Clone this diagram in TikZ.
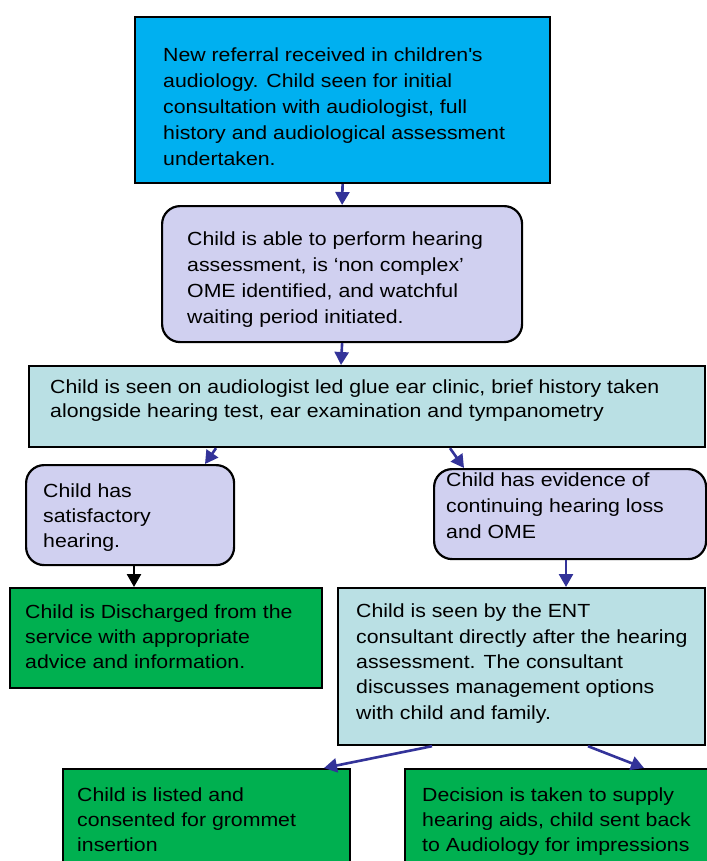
\documentclass[tikz,border=0pt]{standalone}
\usepackage{fontspec}
\setmainfont{Liberation Sans}[FakeStretch=1.12]
\usetikzlibrary{arrows.meta}
\definecolor{cyanbox}{RGB}{0,176,240}
\definecolor{lavbox}{RGB}{208,208,240}
\definecolor{bluebox}{RGB}{186,224,228}
\definecolor{greenbox}{RGB}{0,176,80}
\definecolor{navy}{RGB}{51,51,153}
\begin{document}
\begin{tikzpicture}[x=1pt,y=-1pt,
  box/.style={draw=black,line width=2.2pt,anchor=north west,inner sep=0pt},
  rbox/.style={box,rounded corners=18pt},
  txt/.style={anchor=north west,inner sep=0pt,align=left,font=\fontsize{19}{25.5}\selectfont},
  arr/.style={draw=navy,line width=2.6pt,-{Triangle[width=14pt,length=13pt]}},
  blk/.style={draw=black,line width=2.6pt,-{Triangle[width=14pt,length=13pt]}}]
\useasboundingbox (0,0) rectangle (706,861);
% boxes
\node[box,fill=cyanbox,minimum width=415pt,minimum height=166pt] (b1) at (134,16) {};
\node[rbox,fill=lavbox,minimum width=360pt,minimum height=136pt] (b2) at (161,205) {};
\node[box,fill=bluebox,minimum width=676pt,minimum height=81pt] (b3) at (28,365) {};
\node[rbox,fill=lavbox,minimum width=208pt,minimum height=100pt] (b4) at (25,464) {};
\node[rbox,fill=lavbox,minimum width=272pt,minimum height=90pt] (b5) at (433,468) {};
\node[box,fill=greenbox,minimum width=312pt,minimum height=100pt] (b6) at (9,587) {};
\node[box,fill=bluebox,minimum width=367pt,minimum height=157pt] (b7) at (337,587) {};
\node[box,fill=greenbox,minimum width=287pt,minimum height=110pt] (b8) at (62,768) {};
\node[box,fill=greenbox,minimum width=310pt,minimum height=110pt] (b9) at (404,768) {};
% texts
\node[txt,font=\fontsize{19}{25.8}\selectfont] (t1) at (163,48) {New referral received in children\textquotesingle s\\audiology. Child seen for initial\\consultation with audiologist, full\\history and audiological assessment\\undertaken.};
\node[txt,font=\fontsize{19}{25.8}\selectfont] (t2) at (187,232) {Child is able to perform hearing\\assessment, is ‘non complex’\\OME identified, and watchful\\waiting period initiated.};
\node[txt,font=\fontsize{19}{24}\selectfont] (t3) at (50,380) {Child is seen on audiologist led glue ear clinic, brief history taken\\alongside hearing test, ear examination and tympanometry};
\node[txt,font=\fontsize{19}{25}\selectfont] (t4) at (43,484) {Child has\\satisfactory\\hearing.};
\node[txt,font=\fontsize{19}{26}\selectfont] (t5) at (446,473) {Child has evidence of\\continuing hearing loss\\and OME};
\node[txt,font=\fontsize{19}{25}\selectfont] (t6) at (25,605) {Child is Discharged from the\\service with appropriate\\advice and information.};
\node[txt,font=\fontsize{19}{25.3}\selectfont] (t7) at (356,604) {Child is seen by the ENT\\consultant directly after the hearing\\assessment. The consultant\\discusses management options\\with child and family.};
\node[txt,font=\fontsize{19}{25}\selectfont] (t8) at (77,788) {Child is listed and\\consented for grommet\\insertion};
\node[txt,font=\fontsize{19}{25}\selectfont] (t9) at (422,788) {Decision is taken to supply\\hearing aids, child sent back\\to Audiology for impressions};
% connectors
\draw[arr] (b1.south) -- (b2.north);
\draw[arr] (b2.south) -- ([xshift=313pt]b3.north west);
\draw[arr] ([xshift=188pt]b3.south west) -- ([xshift=180pt]b4.north west);
\draw[arr] ([xshift=422pt]b3.south west) -- ([xshift=31pt]b5.north west);
\draw[blk] ([xshift=109pt]b4.south west) -- ([xshift=125pt]b6.north west);
\draw[arr] ([xshift=133pt]b5.south west) -- ([xshift=229pt]b7.north west);
\draw[arr] ([xshift=95pt]b7.south west) -- ([xshift=262pt]b8.north west);
\draw[arr] ([xshift=251pt]b7.south west) -- ([xshift=240pt]b9.north west);
\end{tikzpicture}
\end{document}
